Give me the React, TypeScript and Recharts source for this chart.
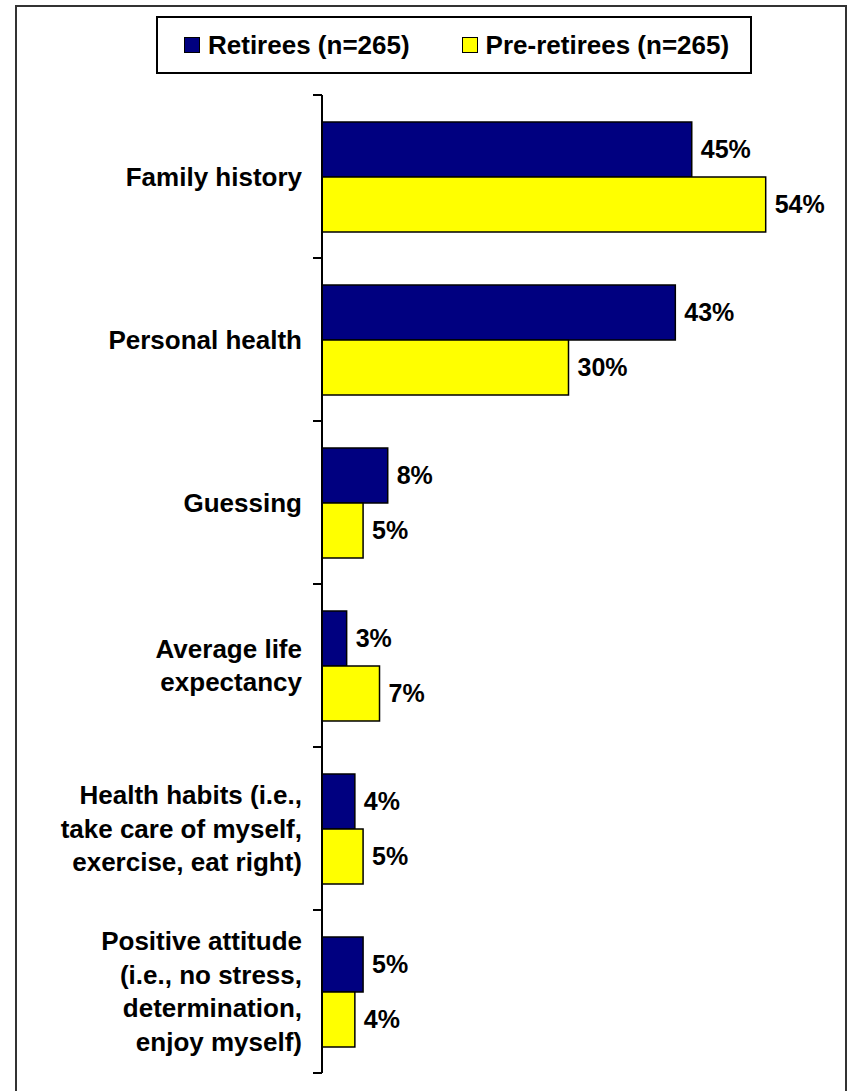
import React from 'react'
import { BarChart, Bar, XAxis, YAxis, Legend, LabelList } from 'recharts'

const categories = [
  'Family history',
  'Personal health',
  'Guessing',
  'Average life\nexpectancy',
  'Health habits (i.e.,\ntake care of myself,\nexercise, eat right)',
  'Positive attitude\n(i.e., no stress,\ndetermination,\nenjoy myself)',
]
const seriesNames = ['Retirees (n=265)', 'Pre-retirees (n=265)']
const retirees = [45, 43, 8, 3, 4, 5]
const preRetirees = [54, 30, 5, 7, 5, 4]

const FONT = '"Liberation Sans", Arial, sans-serif'
const NAVY = '#000080'
const YELLOW = '#FFFF00'
const seriesColors = [NAVY, YELLOW]
const W = 852
const H = 1091
const MARGIN = { top: 95, right: 37, bottom: 18, left: 0 }
const TICK_MARGIN = 20
const LINE_H = 33.5

const data = categories.map((name, i) => ({
  name,
  retirees: retirees[i],
  preRetirees: preRetirees[i],
}))

function CategoryTick(props: any) {
  const { x, y, payload, index } = props
  const lines = String(payload.value).split('\n')
  const band = (H - MARGIN.top - MARGIN.bottom) / categories.length
  const half = payload.offset || band / 2
  const axisX = x + TICK_MARGIN
  const start = y - ((lines.length - 1) * LINE_H) / 2
  return (
    <g>
      <line x1={axisX - 9} x2={axisX} y1={y - half} y2={y - half} stroke="#000" strokeWidth={2} />
      {index === categories.length - 1 && (
        <line x1={axisX - 9} x2={axisX} y1={y + half} y2={y + half} stroke="#000" strokeWidth={2} />
      )}
      <text
        x={x}
        textAnchor="end"
        fill="#000"
        fontSize={26}
        fontWeight="bold"
        fontFamily={FONT}
      >
        {lines.map((l, i) => (
          <tspan key={i} x={x} y={start + i * LINE_H} dy="0.35em">{l}</tspan>
        ))}
      </text>
    </g>
  )
}

function LegendBox() {
  return (
    <div
      style={{
        boxSizing: 'border-box',
        width: '100%',
        height: '100%',
        border: '2px solid #000',
        background: '#fff',
        display: 'flex',
        alignItems: 'center',
        paddingLeft: 26,
        fontFamily: FONT,
        fontWeight: 'bold',
        fontSize: 26,
        color: '#000',
      }}
    >
      {seriesNames.map((name, i) => (
        <div key={i} style={{ display: 'flex', alignItems: 'center', marginRight: i === 0 ? 52 : 0 }}>
          <span
            style={{
              display: 'inline-block',
              boxSizing: 'border-box',
              width: 16,
              height: 16,
              background: seriesColors[i],
              border: '1.5px solid #000',
              marginRight: 8,
            }}
          />
          <span>{name}</span>
        </div>
      ))}
    </div>
  )
}

export default function App() {
  return (
    <div
      style={{
        position: 'absolute',
        left: 0,
        top: 0,
        width: W,
        height: H,
        overflow: 'hidden',
        background: '#fff',
      }}
    >
      <div style={{ position: 'absolute', left: 0, top: 0 }}>
        <BarChart
          width={W}
          height={H}
          data={data}
          layout="vertical"
          margin={MARGIN}
          barCategoryGap="16.5%"
          barGap={0}
        >
          <XAxis type="number" domain={[0, 60]} hide />
          <YAxis
            type="category"
            dataKey="name"
            width={322}
            axisLine={{ stroke: '#000', strokeWidth: 2 }}
            tickLine={false}
            tickSize={0}
            tickMargin={TICK_MARGIN}
            interval={0}
            tick={<CategoryTick />}
          />
          <Legend
            layout="horizontal"
            verticalAlign="middle"
            align="center"
            wrapperStyle={{ top: 16, left: 156, width: 596, height: 58 }}
            content={<LegendBox />}
          />
          <Bar
            dataKey="retirees"
            name={seriesNames[0]}
            fill={NAVY}
            stroke="#000"
            strokeWidth={1.5}
            isAnimationActive={false}
          >
            <LabelList
              dataKey="retirees"
              position="right"
              offset={9}
              formatter={(v: any) => `${v}%`}
              fill="#000"
              fontSize={25}
              fontWeight="bold"
              fontFamily={FONT}
            />
          </Bar>
          <Bar
            dataKey="preRetirees"
            name={seriesNames[1]}
            fill={YELLOW}
            stroke="#000"
            strokeWidth={1.5}
            isAnimationActive={false}
          >
            <LabelList
              dataKey="preRetirees"
              position="right"
              offset={9}
              formatter={(v: any) => `${v}%`}
              fill="#000"
              fontSize={25}
              fontWeight="bold"
              fontFamily={FONT}
            />
          </Bar>
        </BarChart>
      </div>
      <div
        style={{
          position: 'absolute',
          left: 15,
          top: 5,
          width: 832,
          height: 1120,
          boxSizing: 'border-box',
          border: '2px solid #333',
          pointerEvents: 'none',
        }}
      />
    </div>
  )
}
